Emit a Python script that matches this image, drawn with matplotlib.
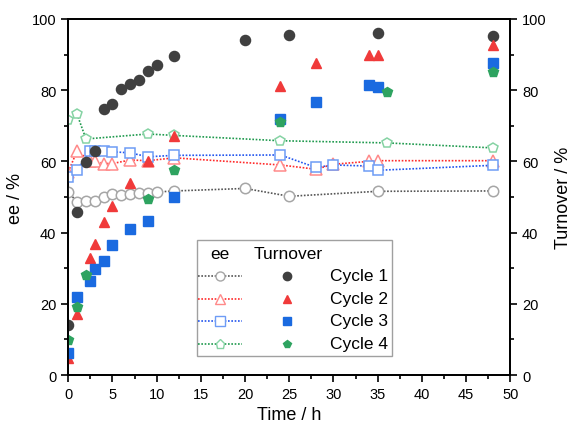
import numpy as np
import matplotlib.pyplot as plt
from matplotlib.lines import Line2D
from matplotlib.patches import Rectangle
from matplotlib.ticker import MultipleLocator

plt.rcParams['font.family'] = ['Liberation Sans', 'DejaVu Sans']

# Cycle 1
t1 = [0, 1, 2, 3, 4, 5, 6, 7, 8, 9, 10, 12, 20, 25, 35, 48]
ee1 = [51.5, 48.5, 49.0, 48.8, 50.0, 50.9, 50.7, 50.9, 51.2, 51.1, 51.4, 51.7, 52.4, 50.2, 51.6, 51.7]
to1 = [14.1, 45.7, 59.9, 63.0, 74.6, 76.1, 80.4, 81.8, 82.9, 85.5, 87.0, 89.5, 94.1, 95.5, 96.1, 95.2]

# Cycle 2
t2_ee = [0, 1, 2.5, 3, 4, 5, 7, 9, 12, 24, 28, 30, 34, 35, 48]
ee2 = [57.1, 63.0, 60.0, 60.1, 59.4, 59.4, 60.4, 60.2, 61.0, 59.0, 57.8, 59.2, 60.0, 60.2, 60.2]
t2 = [0, 1, 2.5, 3, 4, 5, 7, 9, 12, 24, 28, 34, 35, 48]
to2 = [4.8, 17.2, 32.9, 36.9, 43.0, 47.5, 53.9, 60.2, 67.1, 81.3, 87.6, 89.8, 90.0, 92.6]

# Cycle 3
t3_ee = [0, 1, 2.5, 3, 4, 5, 7, 9, 12, 24, 28, 30, 34, 35, 48]
ee3 = [55.7, 57.7, 62.9, 63.0, 63.0, 62.7, 62.4, 61.3, 61.7, 61.8, 58.3, 59.0, 58.7, 57.5, 58.9]
t3 = [0, 1, 2.5, 3, 4, 5, 7, 9, 12, 24, 28, 34, 35, 48]
to3 = [6.3, 22.0, 26.5, 29.7, 32.0, 36.4, 40.9, 43.3, 49.9, 71.9, 76.6, 81.6, 81.0, 87.5]

# Cycle 4
t4 = [0, 1, 2, 9, 12, 24, 36, 48]
ee4 = [71.6, 73.2, 66.3, 67.7, 67.3, 65.8, 65.2, 63.8]
to4 = [9.7, 19.1, 28.0, 49.4, 57.5, 71.2, 79.6, 85.1]

cycles = ['Cycle 1', 'Cycle 2', 'Cycle 3', 'Cycle 4']
line_cols = ['#555555', '#ff2a2a', '#2255ee', '#1f9a4e']
open_cols = ['#a6a6a6', '#ff8a8a', '#6e9cf5', '#86d3a4']
fill_cols = ['#404040', '#f03a3a', '#1a6ae0', '#2ea360']
markers = ['o', '^', 's', 'p']

ee_sets = [(t1, ee1), (t2_ee, ee2), (t3_ee, ee3), (t4, ee4)]
to_sets = [(t1, to1), (t2, to2), (t3, to3), (t4, to4)]

fig = plt.figure(figsize=(5.72, 4.31), dpi=100)
ax = fig.add_axes([0.1194, 0.1276, 0.7727, 0.826])

for i in range(4):
    tx, ey = ee_sets[i]
    ax.plot(tx, ey, linestyle=(0, (1, 1)), color=line_cols[i], lw=1.2,
            marker=markers[i], ms=7.5 if markers[i] != '^' else 8, mfc='white',
            mec=open_cols[i], mew=1.1, zorder=3)
for i in range(4):
    tx, ty = to_sets[i]
    ax.plot(tx, ty, linestyle='none', marker=markers[i], ms=7.3 if markers[i] != 's' else 6.7,
            color=fill_cols[i], mec=fill_cols[i], zorder=4)

ax.set_xlim(0, 50)
ax.set_ylim(0, 100)
ax.xaxis.set_major_locator(MultipleLocator(5))
ax.xaxis.set_minor_locator(MultipleLocator(2.5))
ax.yaxis.set_major_locator(MultipleLocator(20))
ax.yaxis.set_minor_locator(MultipleLocator(10))
ax.tick_params(which='both', direction='out', width=1.2, labelsize=10.5)
ax.tick_params(which='major', length=5)
ax.tick_params(which='minor', length=3)
for s in ax.spines.values():
    s.set_linewidth(1.3)
ax.set_xlabel('Time / h', fontsize=13)
ax.set_ylabel('ee / %', fontsize=13, labelpad=6)

ax2 = ax.twinx()
ax2.set_ylim(0, 100)
ax2.yaxis.set_major_locator(MultipleLocator(20))
ax2.yaxis.set_minor_locator(MultipleLocator(10))
ax2.tick_params(which='both', direction='out', width=1.2, labelsize=10.5)
ax2.tick_params(which='major', length=5)
ax2.tick_params(which='minor', length=3)
for s in ax2.spines.values():
    s.set_linewidth(1.3)
ax2.set_ylabel('Turnover / %', fontsize=13, labelpad=6)

# hand-built legend: ee line + turnover marker per cycle
W, H = 572.0, 431.0
x0, x1 = ax.get_position().x0 * W, ax.get_position().x1 * W
y0, y1 = (1 - ax.get_position().y1) * H, (1 - ax.get_position().y0) * H

def to_ax(px, py):
    return (px - x0) / (x1 - x0), (y1 - py) / (y1 - y0)

bl = to_ax(197, 357)
tr = to_ax(392, 241)
ax.add_patch(Rectangle(bl, tr[0] - bl[0], tr[1] - bl[1], transform=ax.transAxes,
                       facecolor='white', edgecolor='#a0a0a0', lw=1.0, zorder=10))
hx, hy = to_ax(220, 255)
ax.text(hx, hy, 'ee', transform=ax.transAxes, ha='center', va='center', fontsize=12.5, zorder=11)
hx, hy = to_ax(288, 255)
ax.text(hx, hy, 'Turnover', transform=ax.transAxes, ha='center', va='center', fontsize=12.5, zorder=11)
row_y = [277, 299.5, 322, 345]
for i in range(4):
    la, ly = to_ax(198, row_y[i])
    lb, _ = to_ax(242, row_y[i])
    mx, _ = to_ax(220, row_y[i])
    ax.add_line(Line2D([la, lb], [ly, ly], transform=ax.transAxes, linestyle=(0, (1, 1)),
                       color=line_cols[i], lw=1.2, zorder=11))
    ax.add_line(Line2D([mx], [ly], transform=ax.transAxes, marker=markers[i], ms=6.5,
                       mfc='white', mec=open_cols[i], mew=1.0, zorder=12))
    fx, _ = to_ax(287, row_y[i])
    ax.add_line(Line2D([fx], [ly], transform=ax.transAxes, marker=markers[i], ms=6,
                       color=fill_cols[i], zorder=12))
    tx, _ = to_ax(388, row_y[i])
    ax.text(tx, ly, cycles[i], transform=ax.transAxes, ha='right', va='center',
            fontsize=12.5, zorder=11)

fig.savefig('out.png', dpi=100)
